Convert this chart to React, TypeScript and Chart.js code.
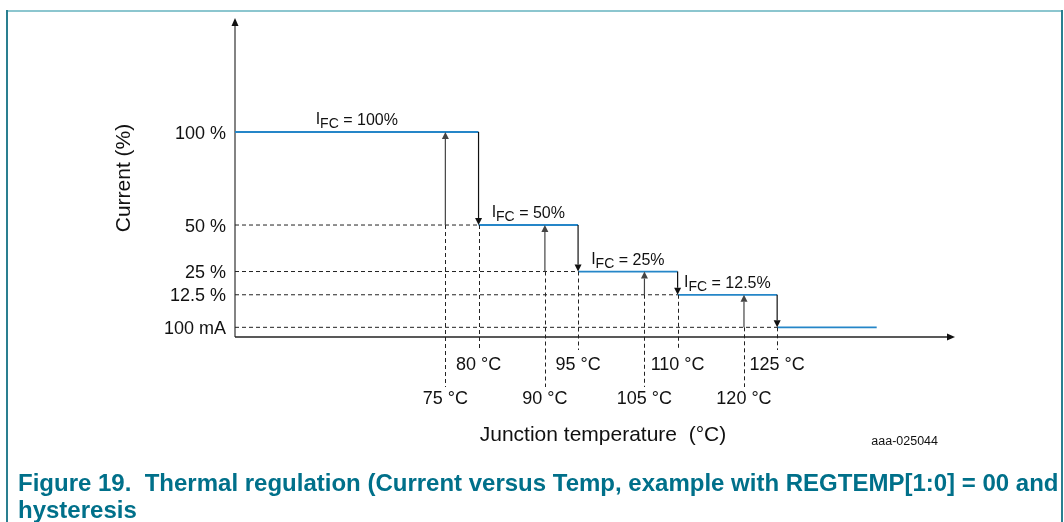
import { useEffect, useRef } from "react";
import { Chart, registerables } from "chart.js";

Chart.register(...registerables);

// ---- data ----
const levelLabels = ["100 %", "50 %", "25 %", "12.5 %", "100 mA"];
// current levels in % (the 100 mA floor is drawn below the 0 % position in the schematic)
const levelValues = [100, 50, 25, 12.5, -5];
const fcLabels = ["100%", "50%", "25%", "12.5%"];
const stepDownTemps = [80, 95, 110, 125]; // °C where current steps down
const stepUpTemps = [75, 90, 105, 120]; // °C where current steps back up (hysteresis)
const endTemp = 140; // °C, end of the drawn 100 mA segment

// axis ranges
const xMin = 43.3;
const xMax = 151.8;
const yMin = -10.2;
const yMax = 161.3;

const FONT = '"Liberation Sans", Arial, Helvetica, sans-serif';

function buildStepData() {
  const pts: { x: number; y: number | null }[] = [];
  for (let i = 0; i < levelValues.length; i++) {
    const x0 = i === 0 ? xMin : stepDownTemps[i - 1];
    const x1 = i < stepDownTemps.length ? stepDownTemps[i] : endTemp;
    pts.push({ x: x0, y: levelValues[i] }, { x: x1, y: levelValues[i] }, { x: x1, y: null });
  }
  return pts;
}

function buildGuideData() {
  const pts: { x: number; y: number | null }[] = [];
  for (let i = 1; i < levelValues.length; i++) {
    const x1 = stepDownTemps[i - 1];
    pts.push({ x: xMin, y: levelValues[i] }, { x: x1, y: levelValues[i] }, { x: x1, y: null });
  }
  return pts;
}

function arrowV(ctx: CanvasRenderingContext2D, x: number, yFrom: number, yTo: number, color: string) {
  const dir = yTo > yFrom ? 1 : -1;
  const head = 7;
  ctx.save();
  ctx.strokeStyle = color;
  ctx.fillStyle = color;
  ctx.lineWidth = 1.2;
  ctx.setLineDash([]);
  ctx.beginPath();
  ctx.moveTo(x, yFrom);
  ctx.lineTo(x, yTo - dir * head);
  ctx.stroke();
  ctx.beginPath();
  ctx.moveTo(x, yTo);
  ctx.lineTo(x - 3.5, yTo - dir * head);
  ctx.lineTo(x + 3.5, yTo - dir * head);
  ctx.closePath();
  ctx.fill();
  ctx.restore();
}

function dashedV(ctx: CanvasRenderingContext2D, x: number, y0: number, y1: number) {
  ctx.save();
  ctx.strokeStyle = "#222";
  ctx.lineWidth = 1;
  ctx.setLineDash([4, 3]);
  ctx.beginPath();
  ctx.moveTo(Math.round(x) + 0.5, y0);
  ctx.lineTo(Math.round(x) + 0.5, y1);
  ctx.stroke();
  ctx.restore();
}

const axesPlugin = {
  id: "diagramAxes",
  beforeDatasetsDraw(chart: any) {
    const { ctx, chartArea: a } = chart;
    ctx.save();
    // y axis
    ctx.strokeStyle = "#5a5a5a";
    ctx.fillStyle = "#111";
    ctx.lineWidth = 1.5;
    ctx.beginPath();
    ctx.moveTo(a.left, a.bottom);
    ctx.lineTo(a.left, a.top + 7);
    ctx.stroke();
    ctx.beginPath();
    ctx.moveTo(a.left, a.top);
    ctx.lineTo(a.left - 3.5, a.top + 8);
    ctx.lineTo(a.left + 3.5, a.top + 8);
    ctx.closePath();
    ctx.fill();
    // x axis
    ctx.strokeStyle = "#222";
    ctx.beginPath();
    ctx.moveTo(a.left, a.bottom);
    ctx.lineTo(a.right - 7, a.bottom);
    ctx.stroke();
    ctx.beginPath();
    ctx.moveTo(a.right, a.bottom);
    ctx.lineTo(a.right - 8, a.bottom - 3.5);
    ctx.lineTo(a.right - 8, a.bottom + 3.5);
    ctx.closePath();
    ctx.fill();
    ctx.restore();
  },
  afterDatasetsDraw(chart: any) {
    const { ctx, chartArea: a, scales } = chart;
    const xs = scales.x;
    const ys = scales.y;
    const px = (t: number) => xs.getPixelForValue(t);
    const py = (v: number) => ys.getPixelForValue(v);

    // leaders and arrows
    for (let i = 0; i < stepDownTemps.length; i++) {
      const xd = px(stepDownTemps[i]);
      const xu = px(stepUpTemps[i]);
      const yHi = py(levelValues[i]);
      const yLo = py(levelValues[i + 1]);
      dashedV(ctx, xd, yLo, a.bottom + 13);
      dashedV(ctx, xu, yLo, a.bottom + 50);
      arrowV(ctx, xu, yLo, yHi, "#444");
      arrowV(ctx, xd, yHi, yLo, "#111");
    }

    ctx.save();
    ctx.fillStyle = "#111";
    ctx.textBaseline = "alphabetic";

    // temperature labels
    ctx.font = `18px ${FONT}`;
    ctx.textAlign = "center";
    stepDownTemps.forEach((t) => ctx.fillText(`${t} °C`, px(t), a.bottom + 33));
    stepUpTemps.forEach((t) => ctx.fillText(`${t} °C`, px(t), a.bottom + 67));

    // y tick labels
    ctx.textAlign = "right";
    levelLabels.forEach((lab, i) => ctx.fillText(lab, a.left - 9, py(levelValues[i]) + 6.5));

    // I_FC labels
    fcLabels.forEach((lab, i) => {
      const x0 = i === 0 ? xMin : stepDownTemps[i - 1];
      const cx = (px(x0) + px(stepDownTemps[i])) / 2;
      const base = py(levelValues[i]) - 7;
      ctx.font = `16px ${FONT}`;
      const wI = ctx.measureText("I").width;
      const rest = ` = ${lab}`;
      const wR = ctx.measureText(rest).width;
      ctx.font = `14px ${FONT}`;
      const wS = ctx.measureText("FC").width;
      const total = wI + wS + wR;
      let xx = cx - total / 2;
      ctx.textAlign = "left";
      ctx.font = `16px ${FONT}`;
      ctx.fillText("I", xx, base - 1);
      xx += wI;
      ctx.font = `14px ${FONT}`;
      ctx.fillText("FC", xx, base + 3);
      xx += wS;
      ctx.font = `16px ${FONT}`;
      ctx.fillText(rest, xx, base);
    });

    // axis titles
    ctx.font = `21px ${FONT}`;
    ctx.textAlign = "center";
    ctx.fillText("Junction temperature  (°C)", 603, 441);
    ctx.save();
    ctx.translate(124, 178);
    ctx.rotate(-Math.PI / 2);
    ctx.textBaseline = "middle";
    ctx.fillText("Current (%)", 0, 0);
    ctx.restore();

    // figure id
    ctx.font = `12.5px ${FONT}`;
    ctx.textAlign = "right";
    ctx.fillText("aaa-025044", 938, 445);
    ctx.restore();
  },
};

export default function App() {
  const ref = useRef<HTMLCanvasElement | null>(null);

  useEffect(() => {
    if (!ref.current) return;
    const chart = new Chart(ref.current, {
      type: "scatter",
      data: {
        datasets: [
          {
            label: "guides",
            data: buildGuideData() as any,
            showLine: true,
            borderColor: "#222",
            borderWidth: 1,
            borderDash: [4, 3],
            pointRadius: 0,
            spanGaps: false,
          },
          {
            label: "I_FC",
            data: buildStepData() as any,
            showLine: true,
            borderColor: "#2586c8",
            borderWidth: 1.8,
            pointRadius: 0,
            spanGaps: false,
          },
        ],
      },
      options: {
        animation: false,
        responsive: false,
        maintainAspectRatio: false,
        layout: { padding: { left: 235, top: 18, right: 109, bottom: 185 } },
        plugins: { legend: { display: false }, tooltip: { enabled: false }, title: { display: false } },
        events: [],
        scales: {
          x: { type: "linear", min: xMin, max: xMax, display: false },
          y: { type: "linear", min: yMin, max: yMax, display: false },
        },
      },
      plugins: [axesPlugin],
    });
    return () => chart.destroy();
  }, []);

  return (
    <div style={{ position: "fixed", left: 0, top: 0, width: 1064, height: 522, background: "#fff", overflow: "hidden" }}>
      <canvas ref={ref} width={1064} height={522} style={{ position: "absolute", left: 0, top: 0, width: 1064, height: 522 }} />
      <div style={{ position: "absolute", left: 7, top: 10, width: 1056, height: 2, background: "#8cc6cf" }} />
      <div style={{ position: "absolute", left: 6, top: 10, width: 2, height: 512, background: "#2a7f90" }} />
      <div style={{ position: "absolute", left: 1061, top: 10, width: 2, height: 512, background: "#2a7f90" }} />
      <div
        style={{
          position: "absolute",
          left: 18,
          top: 469,
          font: `bold 24px ${FONT}`,
          lineHeight: "27px",
          color: "#00708a",
          whiteSpace: "pre",
        }}
      >
        <div>{"Figure 19.  Thermal regulation (Current versus Temp, example with REGTEMP[1:0] = 00 and"}</div>
        <div>hysteresis</div>
      </div>
    </div>
  );
}
